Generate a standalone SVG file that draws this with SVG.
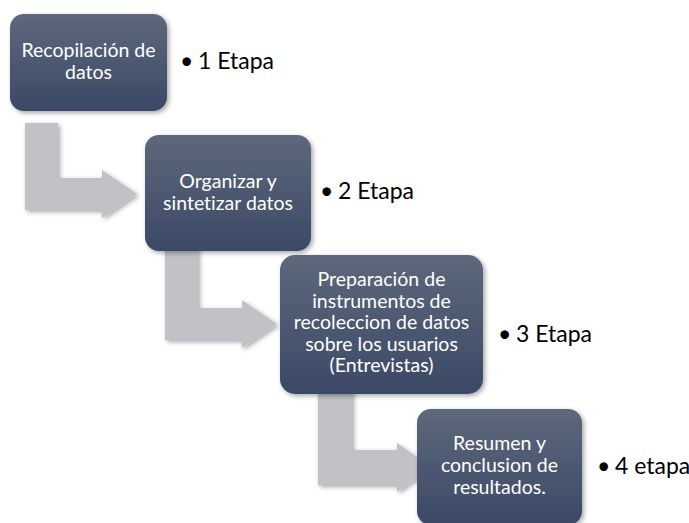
<svg xmlns="http://www.w3.org/2000/svg" width="689" height="523" viewBox="0 0 689 523">
  <defs>
    <linearGradient id="boxGrad" x1="0" y1="0" x2="0" y2="1">
      <stop offset="0" stop-color="#5d687b"/>
      <stop offset="1" stop-color="#3b4966"/>
    </linearGradient>
    <filter id="shadow" x="-20%" y="-20%" width="140%" height="140%">
      <feGaussianBlur in="SourceAlpha" stdDeviation="2.5"/>
      <feOffset dx="1.5" dy="2" result="b"/>
      <feComponentTransfer><feFuncA type="linear" slope="0.35"/></feComponentTransfer>
      <feMerge><feMergeNode/><feMergeNode in="SourceGraphic"/></feMerge>
    </filter>
  </defs>
  <style>
    .box { fill: url(#boxGrad); filter: url(#shadow); }
    .arrow { fill: #c0c2c7; filter: url(#shadow); }
    .lbl { font-family: Lato, "Liberation Sans", sans-serif; font-size: 19.5px; fill: #ffffff; text-anchor: middle; font-variant-ligatures: none; }
    .stage { font-family: Lato, "Liberation Sans", sans-serif; font-size: 23px; fill: #000000; font-variant-ligatures: none; }
  </style>
  <rect width="689" height="523" fill="#ffffff"/>
  <g id="connectors">
    <path class="arrow" d="M25,123 H58 V178 H102 V170 L137,194 L102,218 V210 H25 Z"/>
    <path class="arrow" d="M165,245 H198 V308 H242 V300 L277,324 L242,348 V340 H165 Z"/>
    <path class="arrow" d="M318,388 H352 V450 H397 V443 L432,467.5 L397,492 V485 H318 Z"/>
  </g>
  <g id="node1">
    <rect class="box" x="10" y="14" width="157" height="97" rx="14"/>
    <text class="lbl" x="88.5" y="57">Recopilación de</text>
    <text class="lbl" x="88.5" y="79">datos</text>
    <text class="stage" x="180" y="69">•<tspan x="198">1 Etapa</tspan></text>
  </g>
  <g id="node2">
    <rect class="box" x="145" y="135" width="166" height="116" rx="14"/>
    <text class="lbl" x="228" y="188">Organizar y</text>
    <text class="lbl" x="228" y="210">sintetizar datos</text>
    <text class="stage" x="320" y="199">•<tspan x="338">2 Etapa</tspan></text>
  </g>
  <g id="node3">
    <rect class="box" x="280" y="255" width="203" height="139" rx="15"/>
    <text class="lbl" x="381.5" y="286">Preparación de</text>
    <text class="lbl" x="381.5" y="307.5">instrumentos de</text>
    <text class="lbl" x="381.5" y="329">recoleccion de datos</text>
    <text class="lbl" x="381.5" y="350.5">sobre los usuarios</text>
    <text class="lbl" x="381.5" y="372">(Entrevistas)</text>
    <text class="stage" x="498" y="342">•<tspan x="516">3 Etapa</tspan></text>
  </g>
  <g id="node4">
    <rect class="box" x="417" y="409" width="165" height="116" rx="14"/>
    <text class="lbl" x="499.5" y="450">Resumen y</text>
    <text class="lbl" x="499.5" y="472">conclusion de</text>
    <text class="lbl" x="499.5" y="494">resultados.</text>
    <text class="stage" x="597" y="474">•<tspan x="615">4 etapa</tspan></text>
  </g>
</svg>
